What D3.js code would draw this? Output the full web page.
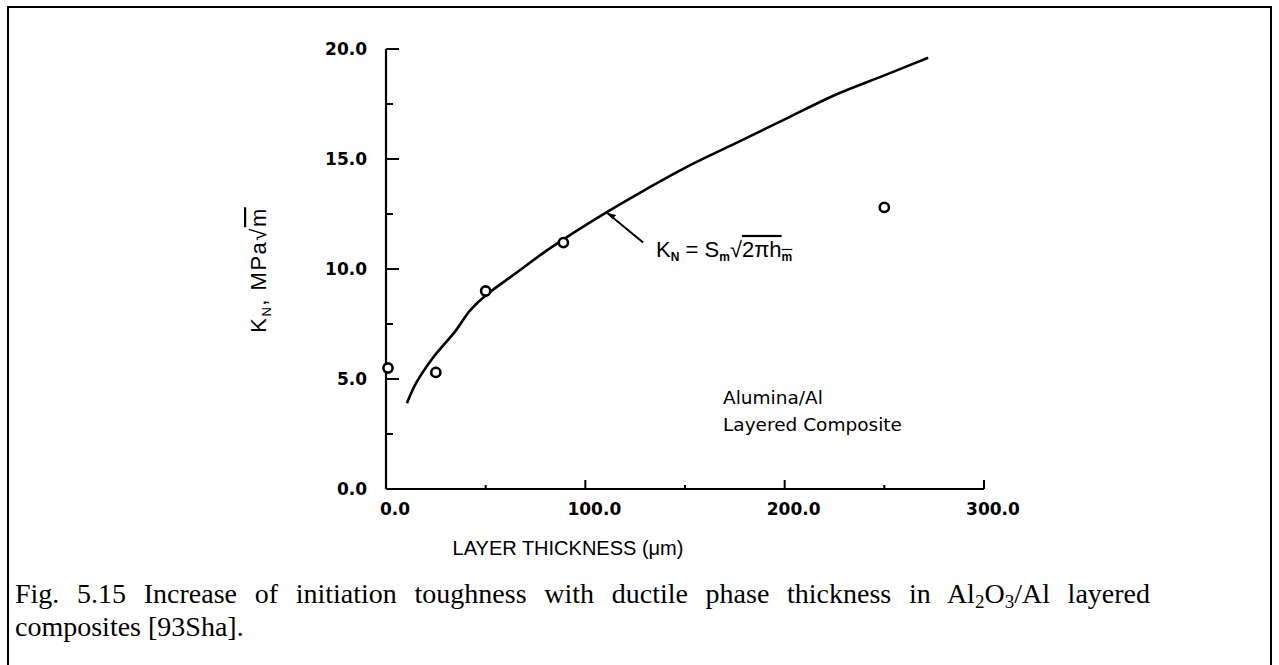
<!DOCTYPE html>
<html>
<head>
<meta charset="utf-8">
<script src="https://cdn.jsdelivr.net/npm/d3@7"></script>
<style>
  html, body { margin: 0; padding: 0; background: #fff; }
  svg { display: block; }
</style>
</head>
<body>
<svg id="chart" width="1279" height="665"></svg>
<script>
// measured points (layer thickness in um, K_N in MPa*sqrt(m))
var thickness = [0, 25, 50, 89, 250];
var toughness = [5.5, 5.3, 9.0, 11.2, 12.8];

// the drawn curve K_N = S_m sqrt(2 pi h_m)
var curveX = [10.5, 15, 23, 35, 42, 50, 65, 80, 95, 111, 130, 150, 175, 200, 225, 250, 272];
var curveY = [3.9, 4.8, 5.9, 7.2, 8.1, 8.8, 9.8, 10.8, 11.7, 12.6, 13.6, 14.6, 15.7, 16.8, 17.9, 18.8, 19.6];

var xTicks = [0, 100, 200, 300];
var xMinor = [50, 150, 250];
var yTicks = [0, 5, 10, 15, 20];
var yMinor = [2.5, 7.5, 12.5, 17.5];

var svg = d3.select('#chart');

// frame
svg.append('path')
  .attr('d', 'M8,665 L8,7 L1271,7 L1271,665')
  .attr('fill', 'none')
  .attr('stroke', '#000')
  .attr('stroke-width', 2);

var x = d3.scaleLinear().domain([0, 300]).range([386, 984]);
var y = d3.scaleLinear().domain([0, 20]).range([489, 49]);

var tickFont = '"DejaVu Sans", sans-serif';

// y axis: ticks point inward (right)
var yAxis = svg.append('g');
yAxis.append('line')
  .attr('x1', x(0)).attr('x2', x(0))
  .attr('y1', y(0)).attr('y2', y(20))
  .attr('stroke', '#000').attr('stroke-width', 2.2);
yAxis.selectAll('.maj').data(yTicks).enter().append('line')
  .attr('x1', x(0)).attr('x2', x(0) + 13)
  .attr('y1', function(d) { return y(d); })
  .attr('y2', function(d) { return y(d); })
  .attr('stroke', '#000').attr('stroke-width', 2);
yAxis.selectAll('.min').data(yMinor).enter().append('line')
  .attr('x1', x(0)).attr('x2', x(0) + 7)
  .attr('y1', function(d) { return y(d); })
  .attr('y2', function(d) { return y(d); })
  .attr('stroke', '#000').attr('stroke-width', 2);
yAxis.selectAll('text').data(yTicks).enter().append('text')
  .attr('x', 367)
  .attr('y', function(d) { return y(d) + 6; })
  .attr('text-anchor', 'end')
  .style('font-family', tickFont)
  .style('font-weight', 'bold')
  .style('font-size', '17px')
  .text(function(d) { return d3.format('.1f')(d); });

// x axis: ticks point up
var xAxis = svg.append('g');
xAxis.append('line')
  .attr('x1', x(0)).attr('x2', x(300))
  .attr('y1', y(0)).attr('y2', y(0))
  .attr('stroke', '#000').attr('stroke-width', 2.2);
xAxis.selectAll('.maj').data(xTicks).enter().append('line')
  .attr('x1', function(d) { return x(d); })
  .attr('x2', function(d) { return x(d); })
  .attr('y1', y(0)).attr('y2', y(0) - 9)
  .attr('stroke', '#000').attr('stroke-width', 2);
xAxis.selectAll('.min').data(xMinor).enter().append('line')
  .attr('x1', function(d) { return x(d); })
  .attr('x2', function(d) { return x(d); })
  .attr('y1', y(0)).attr('y2', y(0) - 4)
  .attr('stroke', '#000').attr('stroke-width', 2);
xAxis.selectAll('text').data(xTicks).enter().append('text')
  .attr('x', function(d) { return x(d) + 9; })
  .attr('y', 515)
  .attr('text-anchor', 'middle')
  .style('font-family', tickFont)
  .style('font-weight', 'bold')
  .style('font-size', '17px')
  .text(function(d) { return d3.format('.1f')(d); });

// axis titles
svg.append('text')
  .attr('x', 568).attr('y', 555)
  .attr('text-anchor', 'middle')
  .style('font-family', '"Liberation Sans", Arial, sans-serif')
  .style('font-size', '20px')
  .text('LAYER THICKNESS (\u03bcm)');

var yTitle = svg.append('text')
  .attr('transform', 'translate(266,270) rotate(-90)')
  .attr('text-anchor', 'middle')
  .style('font-family', '"Liberation Sans", Arial, sans-serif')
  .style('font-size', '22px')
  .style('letter-spacing', '1.5px');
yTitle.append('tspan').text('K');
yTitle.append('tspan').attr('dy', 5).style('font-size', '13px').text('N');
yTitle.append('tspan').attr('dy', -5).text(', MPa\u221a');
yTitle.append('tspan').style('text-decoration', 'overline').text('m');

// curve
var curve = d3.zip(curveX, curveY);
svg.append('path')
  .datum(curve)
  .attr('d', d3.line()
    .x(function(d) { return x(d[0]); })
    .y(function(d) { return y(d[1]); })
    .curve(d3.curveCatmullRom))
  .attr('fill', 'none')
  .attr('stroke', '#000')
  .attr('stroke-width', 2.6);

// measured points
svg.selectAll('circle.pt').data(d3.zip(thickness, toughness)).enter()
  .append('circle')
  .attr('class', 'pt')
  .attr('cx', function(d) { return x(d[0]) + (d[0] === 0 ? 2 : 0); })
  .attr('cy', function(d) { return y(d[1]); })
  .attr('r', 4.6)
  .attr('fill', '#fff')
  .attr('stroke', '#000')
  .attr('stroke-width', 2.6);

// leader and formula label
svg.append('line')
  .attr('x1', x(111)).attr('y1', y(12.55))
  .attr('x2', x(129)).attr('y2', y(11.2))
  .attr('stroke', '#000').attr('stroke-width', 2);
svg.append('path')
  .attr('d', 'M' + x(111) + ',' + y(12.55) + ' l9,2 l-4,4 z')
  .attr('fill', '#000');

var f = svg.append('text')
  .attr('x', x(135.5)).attr('y', y(10.55))
  .style('font-family', '"Liberation Sans", Arial, sans-serif')
  .style('font-size', '22px');
f.append('tspan').text('K');
f.append('tspan').attr('dy', 4).style('font-size', '12px').style('font-weight', 'bold').text('N');
f.append('tspan').attr('dy', -4).text(' = S');
f.append('tspan').attr('dy', 4).style('font-size', '12px').style('font-weight', 'bold').text('m');
f.append('tspan').attr('dy', -4).text('\u221a');
f.append('tspan').style('text-decoration', 'overline').text('2\u03c0h');
f.append('tspan').attr('dy', 4).style('font-size', '12px').style('font-weight', 'bold').style('text-decoration', 'overline').text('m');

// material label
var lab = svg.append('text')
  .style('font-family', '"DejaVu Sans", sans-serif')
  .style('font-size', '18.5px');
lab.append('tspan').attr('x', 723).attr('y', 404).text('Alumina/Al');
lab.append('tspan').attr('x', 723).attr('y', 431).text('Layered Composite');

// caption, first line justified to the frame width
var cap = svg.append('text')
  .style('font-family', '"Liberation Serif", "Times New Roman", serif')
  .style('font-size', '28px');
var l1 = cap.append('tspan').attr('x', 15).attr('y', 603);
l1.append('tspan').text('Fig. 5.15 Increase of initiation toughness with ductile phase thickness in Al');
l1.append('tspan').attr('dy', 5).style('font-size', '19px').text('2');
l1.append('tspan').attr('dy', -5).text('O');
l1.append('tspan').attr('dy', 5).style('font-size', '19px').text('3');
l1.append('tspan').attr('dy', -5).text('/Al layered');

var lineEnd = 1150;
var w = cap.node().getBBox().width;
var gaps = 12;
l1.style('word-spacing', Math.max(0, (lineEnd - 15 - w) / gaps) + 'px');

cap.append('tspan').attr('x', 15).attr('y', 636).text('composites [93Sha].');
</script>
</body>
</html>
